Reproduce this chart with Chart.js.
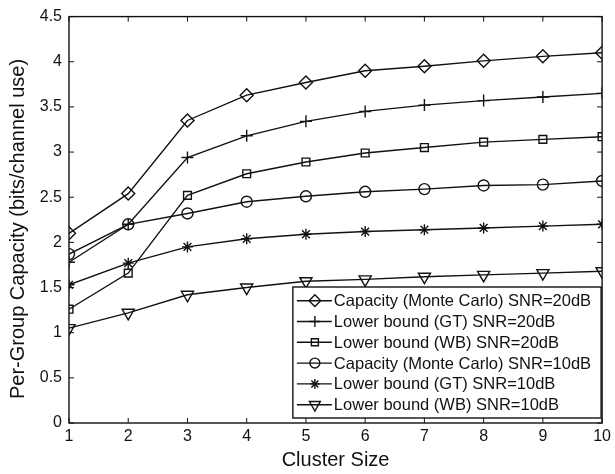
<!DOCTYPE html>
<html>
<head>
<meta charset="utf-8">
<script src="https://cdn.jsdelivr.net/npm/chart.js"></script>
<style>
  html, body { margin: 0; padding: 0; background: #fff; }
</style>
</head>
<body>
<canvas id="chart" width="615" height="474"></canvas>
<script>
const clusterSize = [1, 2, 3, 4, 5, 6, 7, 8, 9, 10];

const capMC20 = [2.10, 2.54, 3.35, 3.63, 3.77, 3.90, 3.95, 4.01, 4.06, 4.10];
const lbGT20 = [1.78, 2.20, 2.94, 3.18, 3.34, 3.45, 3.52, 3.57, 3.61, 3.65];
const lbWB20 = [1.26, 1.66, 2.52, 2.76, 2.89, 2.99, 3.05, 3.11, 3.14, 3.17];
const capMC10 = [1.87, 2.20, 2.32, 2.45, 2.51, 2.56, 2.59, 2.63, 2.64, 2.68];
const lbGT10 = [1.53, 1.77, 1.95, 2.04, 2.09, 2.12, 2.14, 2.16, 2.18, 2.20];
const lbWB10 = [1.05, 1.22, 1.42, 1.50, 1.57, 1.59, 1.62, 1.64, 1.66, 1.68];

const seriesNames = [
  "Capacity (Monte Carlo) SNR=20dB",
  "Lower bound (GT) SNR=20dB",
  "Lower bound (WB) SNR=20dB",
  "Capacity (Monte Carlo) SNR=10dB",
  "Lower bound (GT) SNR=10dB",
  "Lower bound (WB) SNR=10dB"
];
const seriesValues = [capMC20, lbGT20, lbWB20, capMC10, lbGT10, lbWB10];
const markers = [
  { style: "rectRot", radius: 6.5, rotation: 0 },
  { style: "cross", radius: 6, rotation: 0 },
  { style: "rect", radius: 5.5, rotation: 0 },
  { style: "circle", radius: 5.5, rotation: 0 },
  { style: "star", radius: 5.5, rotation: 0 },
  { style: "triangle", radius: 7, rotation: 180 }
];

const ink = "#111";
const font = "'Liberation Sans', Arial, sans-serif";
const yTitle = "Per-Group Capacity (bits/channel use)";

const datasets = seriesNames.map((name, i) => ({
  label: name,
  data: clusterSize.map((x, j) => ({ x: x, y: seriesValues[i][j] })),
  borderColor: ink,
  borderWidth: 1.4,
  backgroundColor: "transparent",
  pointStyle: markers[i].style,
  pointRadius: markers[i].radius,
  pointRotation: markers[i].rotation,
  pointBorderColor: ink,
  pointBackgroundColor: "transparent",
  pointBorderWidth: 1.4,
  tension: 0
}));

// box with inner ticks on all four sides + the y title
const boxPlugin = {
  id: "box",
  afterDraw(chart) {
    const { ctx, chartArea: a, scales } = chart;
    ctx.save();
    ctx.strokeStyle = ink;
    ctx.lineWidth = 1.4;
    ctx.strokeRect(a.left, a.top, a.right - a.left, a.bottom - a.top);
    ctx.beginPath();
    const t = 5;
    scales.x.ticks.forEach(tk => {
      const px = scales.x.getPixelForValue(tk.value);
      ctx.moveTo(px, a.bottom); ctx.lineTo(px, a.bottom - t);
      ctx.moveTo(px, a.top); ctx.lineTo(px, a.top + t);
    });
    scales.y.ticks.forEach(tk => {
      const py = scales.y.getPixelForValue(tk.value);
      ctx.moveTo(a.left, py); ctx.lineTo(a.left + t, py);
      ctx.moveTo(a.right, py); ctx.lineTo(a.right - t, py);
    });
    ctx.lineWidth = 1;
    ctx.stroke();

    ctx.translate(18, 229);
    ctx.rotate(-Math.PI / 2);
    ctx.font = "20px " + font;
    ctx.fillStyle = ink;
    ctx.textAlign = "center";
    ctx.textBaseline = "middle";
    ctx.fillText(yTitle, 0, 0);
    ctx.restore();
  }
};

// matlab style legend in the lower right corner
const legendPlugin = {
  id: "boxLegend",
  afterDraw(chart) {
    const { ctx, chartArea: a } = chart;
    ctx.save();
    ctx.font = "16.5px " + font;
    let maxW = 0;
    seriesNames.forEach(n => { maxW = Math.max(maxW, ctx.measureText(n).width); });
    const w = 41 + maxW + 10;
    const h = 131;
    const right = a.right - 1;
    const bottom = a.bottom - 5;
    const left = right - w;
    const top = bottom - h;
    ctx.fillStyle = "#fff";
    ctx.fillRect(left, top, w, h);
    ctx.strokeStyle = ink;
    ctx.lineWidth = 1.4;
    ctx.strokeRect(left, top, w, h);
    seriesNames.forEach((n, i) => {
      const y = top + 13.7 + i * 20.8;
      ctx.beginPath();
      ctx.moveTo(left + 4, y);
      ctx.lineTo(left + 39, y);
      ctx.strokeStyle = ink;
      ctx.lineWidth = 1.4;
      ctx.stroke();
      ctx.fillStyle = "transparent";
      Chart.helpers.drawPoint(ctx, {
        pointStyle: markers[i].style,
        rotation: markers[i].rotation,
        radius: markers[i].radius * 0.9,
        borderWidth: 1.4
      }, left + 22, y);
      ctx.fillStyle = ink;
      ctx.textBaseline = "middle";
      ctx.textAlign = "left";
      ctx.fillText(n, left + 41, y + 1);
    });
    ctx.restore();
  }
};

new Chart(document.getElementById("chart"), {
  type: "line",
  data: { datasets: datasets },
  options: {
    responsive: false,
    animation: false,
    layout: { padding: { left: 0, top: 11, right: 9, bottom: 0 } },
    plugins: {
      legend: { display: false },
      tooltip: { enabled: false }
    },
    scales: {
      x: {
        type: "linear",
        min: 1,
        max: 10,
        afterFit: s => { s.height = 51; },
        ticks: { stepSize: 1, color: ink, padding: 4, font: { family: font, size: 16 } },
        grid: { display: false, drawTicks: false },
        border: { display: false },
        title: { display: true, text: "Cluster Size", color: ink, padding: { top: 0, bottom: 2 }, font: { family: font, size: 20 } }
      },
      y: {
        min: 0,
        max: 4.5,
        afterFit: s => { s.width = 69; },
        ticks: { stepSize: 0.5, color: ink, padding: 7, font: { family: font, size: 16 }, callback: v => String(v) },
        grid: { display: false, drawTicks: false },
        border: { display: false },
        title: { display: false }
      }
    }
  },
  plugins: [boxPlugin, legendPlugin]
});
</script>
</body>
</html>
